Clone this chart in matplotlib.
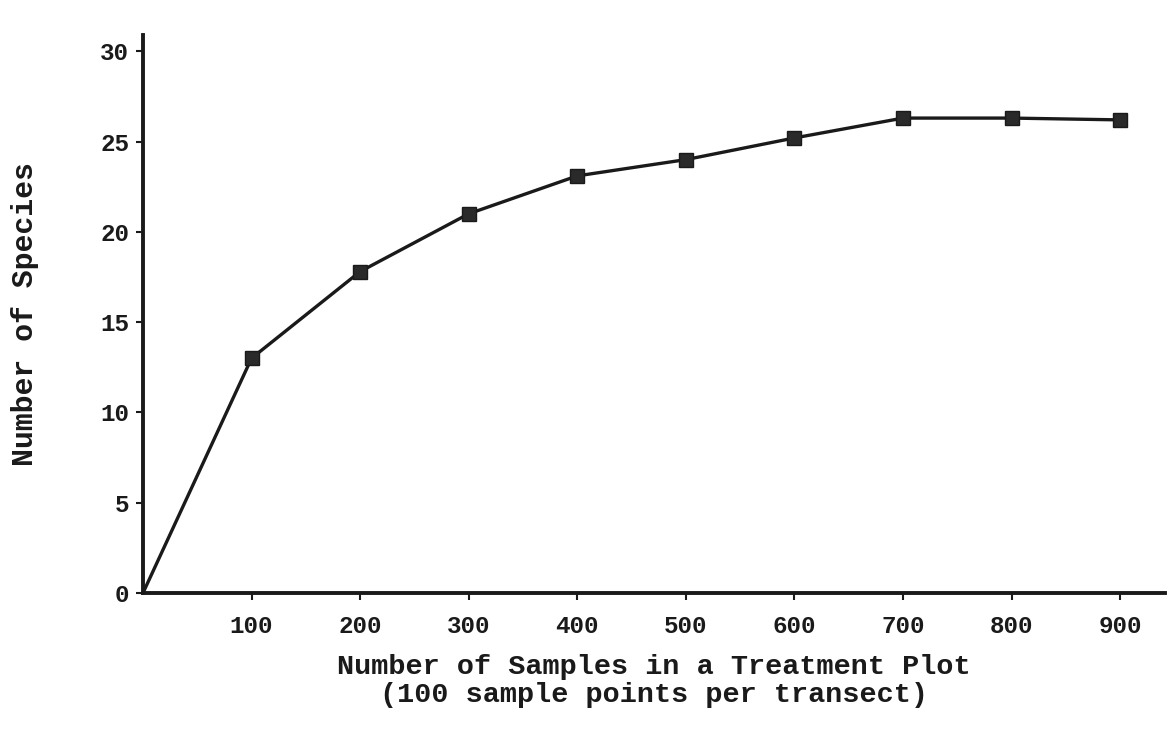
import numpy as np
import matplotlib.pyplot as plt

samples = [0, 100, 200, 300, 400, 500, 600, 700, 800, 900]
species = [0, 13.0, 17.8, 21.0, 23.1, 24.0, 25.2, 26.3, 26.3, 26.2]
xticks = [100, 200, 300, 400, 500, 600, 700, 800, 900]
yticks = [0, 5, 10, 15, 20, 25, 30]

plt.rcParams['font.family'] = ['Liberation Mono', 'DejaVu Sans Mono']
plt.rcParams['font.weight'] = 'bold'

fig = plt.figure(figsize=(11.69, 7.45), dpi=100)
ax = fig.add_axes([0.1223, 0.204, 0.874, 0.749])

ax.plot(samples, species, color="#1a1a1a", lw=2.4, marker="s", markersize=10.5,
        markevery=list(range(1, len(samples))), markerfacecolor="#2a2a2a",
        markeredgecolor="#1a1a1a")

ax.set_xlim(0, 941)
ax.set_ylim(0, 30.9)
ax.set_xticks(xticks)
ax.set_yticks(yticks)
ax.tick_params(axis="both", direction="out", length=5, width=1.5, labelsize=17.5, colors="#1a1a1a")
ax.tick_params(axis="x", pad=11)
ax.tick_params(axis="y", pad=5)
for lab in ax.get_xticklabels() + ax.get_yticklabels():
    lab.set_fontweight("bold")

for s in ["top", "right"]:
    ax.spines[s].set_visible(False)
for s in ["left", "bottom"]:
    ax.spines[s].set_linewidth(2.8)
    ax.spines[s].set_color("#1a1a1a")

ax.set_xlabel("Number of Samples in a Treatment Plot\n(100 sample points per transect)",
              fontsize=20.5, fontweight="bold", labelpad=11, color="#1a1a1a", linespacing=1.1)
ax.set_ylabel("Number of Species", fontsize=21.5, fontweight="bold", labelpad=44, color="#1a1a1a")

fig.savefig("out.png", dpi=100)
